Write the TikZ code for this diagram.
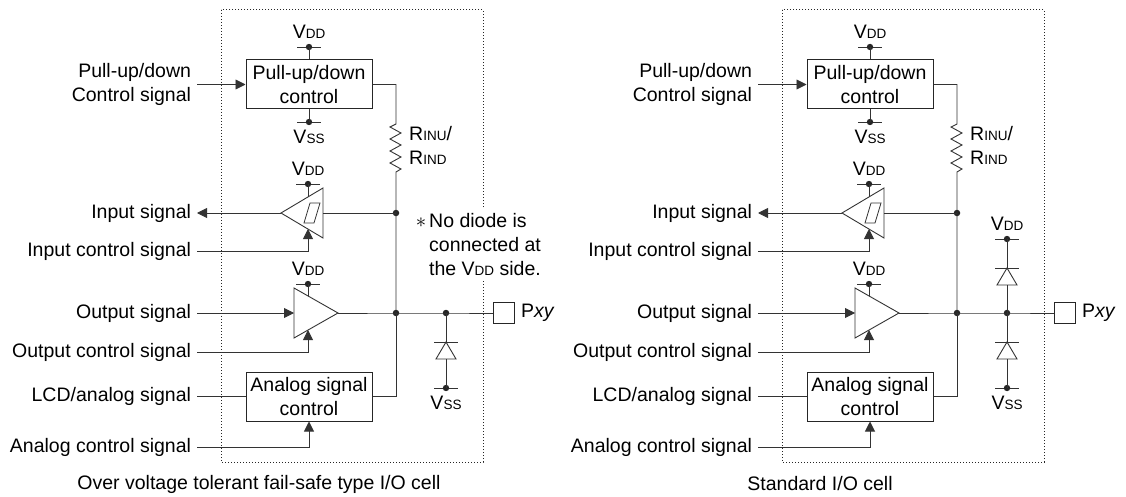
\documentclass[tikz,border=0pt]{standalone}
\usepackage{fontspec}
\setmainfont{Liberation Sans}
\usetikzlibrary{arrows.meta}
\newcommand\smc[1]{{\fontsize{13.5}{14}\selectfont #1}}
\begin{document}
\begin{tikzpicture}[x=1pt,y=-1pt,
  every node/.style={font=\fontsize{19.5}{24}\selectfont, text=black},
  wire/.style={draw=black!80, line width=0.9pt},
  arr/.style={wire, -{Triangle[length=10pt,width=10pt]}},
  blk/.style={draw=black!85, line width=1pt, minimum width=126pt, minimum height=49pt, align=center, inner sep=0pt},
  lbl/.style={anchor=east, align=right, inner sep=3pt, outer sep=3pt},
  cell/.style={draw=black!85, dash pattern=on 1.1pt off 1.9pt, line width=1pt},
  dot/.style={circle, fill=black!85, inner sep=0pt, minimum size=6.5pt},
  vdd/.pic={\coordinate (-c) at (0,0); \draw[wire] (-12,0) -- (12,0); \fill[black!85] (0,0) circle (3.2pt); \node (-t) at (0,-15) {V\smc{DD}};},
  vss/.pic={\coordinate (-c) at (0,0); \draw[wire] (-12,0) -- (12,0); \fill[black!85] (0,0) circle (3.2pt); \node (-t) at (0,15) {V\smc{SS}};},
  diode/.pic={\coordinate (-a) at (0,0); \coordinate (-b) at (0,17); \draw[wire] (-12,0) -- (12,0); \draw[wire] (0,0) -- (10,17) -- (-10,17) -- cycle;}
]
\useasboundingbox (0,0) rectangle (1126,497);
\foreach \p/\dx in {L/0,R/561}{
\begin{scope}[xshift=\dx pt]
  % cell outline
  \draw[cell] (221,10) rectangle (483,462);
  % pull-up / pull-down
  \node[blk] (pu\p) at (309,84.5) {Pull-up/down\\control};
  \pic (vpu\p) at (309,47) {vdd};
  \pic (spu\p) at (309,122) {vss};
  \draw[wire] (vpu\p-c) -- (pu\p.north);
  \draw[wire] (spu\p-c) -- (pu\p.south);
  \node[lbl] (lpu\p) at (197,84.5) {Pull-up/down\\Control signal};
  \draw[arr] (lpu\p.east) -- (pu\p.west);
  % resistor and vertical bus
  \coordinate (ra\p) at (396,124);
  \node[dot] (j1\p) at (396,213) {};
  \node[dot] (j2\p) at (396,313) {};
  \draw[wire] (pu\p.east) -| (ra\p) -- ++(-6,3) -- ++(11,6) -- ++(-11,6) -- ++(11,6) -- ++(-11,6) -- ++(11,6) -- ++(-11,6) -- ++(11,6) -- ++(-5,3) -- (j1\p.center) -- (j2\p.center);
  \node[anchor=west, align=left, inner sep=0pt] (rl\p) at (409,145) {R\smc{INU}/\\R\smc{IND}};
  % input buffer
  \coordinate (ibo\p) at (281,213);
  \coordinate (ibi\p) at (323,213);
  \draw[wire] (ibo\p) -- (323,188) -- (323,238) -- cycle;
  \draw[wire, line width=0.8pt] (304,223) -- (314,223) -- (320,203) -- (310,203) -- cycle;
  \draw[wire] (ibi\p) -- (j1\p.center);
  \pic (vib\p) at (308,184) {vdd};
  \draw[wire] (vib\p-c) -- (308,197);
  \node[lbl] (lin\p) at (197,213) {Input signal};
  \draw[arr] (ibo\p) -- (lin\p.east);
  \node[lbl] (lic\p) at (197,251) {Input control signal};
  \draw[arr] (lic\p.east) -| (308,229);
  % output buffer
  \coordinate (obi\p) at (294,313);
  \coordinate (obo\p) at (338,313);
  \draw[wire] (294,288) -- (obo\p) -- (294,338) -- cycle;
  \pic (vob\p) at (308,284) {vdd};
  \draw[wire] (vob\p-c) -- (308,296);
  \node[lbl] (los\p) at (197,313) {Output signal};
  \draw[arr] (los\p.east) -- (obi\p);
  \node[lbl] (loc\p) at (197,352) {Output control signal};
  \draw[arr] (loc\p.east) -| (308,330);
  \node[dot] (j3\p) at (446,313) {};
  \node[draw=black!85, line width=1pt, minimum size=21pt, inner sep=0pt] (pad\p) at (504,313) {};
  \node[anchor=west, inner sep=0pt] (padt\p) at (521,313) {P\textit{xy}};
  \draw[wire] (obo\p) -- (j2\p.center) -- (j3\p.center) -- (pad\p.west);
  % analog block
  \node[blk] (an\p) at (309,396.5) {Analog signal\\control};
  \draw[wire] (an\p.east) -| (j2\p.center);
  \node[lbl] (llcd\p) at (197,396.5) {LCD/analog signal};
  \draw[wire] (llcd\p.east) -- (an\p.west);
  \node[lbl] (lac\p) at (197,447) {Analog control signal};
  \draw[arr] (lac\p.east) -| (an\p.south);
  % lower diode
  \pic (dl\p) at (446,342) {diode};
  \pic (vsd\p) at (446,388) {vss};
  \draw[wire] (j3\p.center) -- (dl\p-a);
  \draw[wire] (dl\p-b) -- (vsd\p-c);
\end{scope}
}
% note (left cell only)
\node[fill=white, align=left, anchor=west, inner sep=5pt] (note) at (424,245)
  {\llap{$\ast$\hspace{3pt}}No diode is\\connected at\\the V\smc{DD} side.};
% upper diode (right cell only)
\pic (duR) at (1007,268) {diode};
\pic (vduR) at (1007,239) {vdd};
\draw[wire] (vduR-c) -- (duR-a);
\draw[wire] (duR-b) -- (j3R.center);
% captions
\node (capL) at (259,484) {Over voltage tolerant fail-safe type I/O cell};
\node (capR) at (820,484) {Standard I/O cell};
\end{tikzpicture}
\end{document}
